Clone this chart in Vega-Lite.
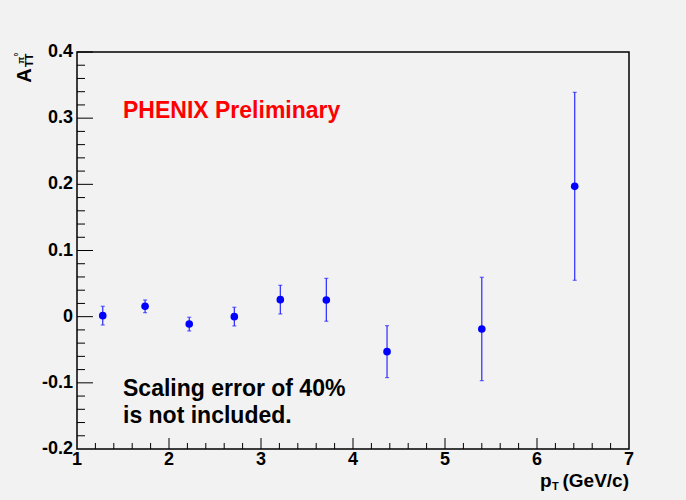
{
  "$schema": "https://vega.github.io/schema/vega-lite/v6.json",
  "autosize": "none",
  "width": 552,
  "height": 397,
  "padding": {"left": 77, "top": 52, "right": 57, "bottom": 51},
  "background": "#f2f2f2",
  "config": {
    "view": {"stroke": "#000000", "strokeWidth": 1.5, "fill": null},
    "font": "Liberation Sans"
  },
  "datasets": {
    "pts": [
      {"pt": 1.28, "a": 0.0015, "lo": -0.0126, "hi": 0.0157},
      {"pt": 1.74, "a": 0.0157, "lo": 0.006, "hi": 0.0252},
      {"pt": 2.22, "a": -0.011, "lo": -0.0216, "hi": -0.0009},
      {"pt": 2.71, "a": 0.0, "lo": -0.014, "hi": 0.0142},
      {"pt": 3.21, "a": 0.0257, "lo": 0.0041, "hi": 0.0474},
      {"pt": 3.71, "a": 0.0252, "lo": -0.0069, "hi": 0.0579},
      {"pt": 4.37, "a": -0.0529, "lo": -0.0921, "hi": -0.0136},
      {"pt": 5.40, "a": -0.0187, "lo": -0.0967, "hi": 0.0595},
      {"pt": 6.41, "a": 0.197, "lo": 0.055, "hi": 0.339}
    ],
    "yLabels": [{"v": -0.2, "t": "-0.2"}, {"v": -0.1, "t": "-0.1"}, {"v": 0, "t": "0"}, {"v": 0.1, "t": "0.1"}, {"v": 0.2, "t": "0.2"}, {"v": 0.3, "t": "0.3"}, {"v": 0.4, "t": "0.4"}],
    "xLabels": [{"v": 1, "t": "1"}, {"v": 2, "t": "2"}, {"v": 3, "t": "3"}, {"v": 4, "t": "4"}, {"v": 5, "t": "5"}, {"v": 6, "t": "6"}, {"v": 7, "t": "7"}],
    "yMajor": [{"v": -0.1}, {"v": 0}, {"v": 0.1}, {"v": 0.2}, {"v": 0.3}, {"v": 0.4}],
    "yMinor": [{"v": -0.18}, {"v": -0.16}, {"v": -0.14}, {"v": -0.12}, {"v": -0.08}, {"v": -0.06}, {"v": -0.04}, {"v": -0.02}, {"v": 0.02}, {"v": 0.04}, {"v": 0.06}, {"v": 0.08}, {"v": 0.12}, {"v": 0.14}, {"v": 0.16}, {"v": 0.18}, {"v": 0.22}, {"v": 0.24}, {"v": 0.26}, {"v": 0.28}, {"v": 0.32}, {"v": 0.34}, {"v": 0.36}, {"v": 0.38}],
    "xMajor": [{"v": 2}, {"v": 3}, {"v": 4}, {"v": 5}, {"v": 6}],
    "xMinor": [{"v": 1.2}, {"v": 1.4}, {"v": 1.6}, {"v": 1.8}, {"v": 2.2}, {"v": 2.4}, {"v": 2.6}, {"v": 2.8}, {"v": 3.2}, {"v": 3.4}, {"v": 3.6}, {"v": 3.8}, {"v": 4.2}, {"v": 4.4}, {"v": 4.6}, {"v": 4.8}, {"v": 5.2}, {"v": 5.4}, {"v": 5.6}, {"v": 5.8}, {"v": 6.2}, {"v": 6.4}, {"v": 6.6}, {"v": 6.8}],
    "red": [{"t": "PHENIX Preliminary", "x": 1.5, "y": 0.3}],
    "black": [
      {"t": "Scaling error of 40%", "x": 1.5, "y": -0.12},
      {"t": "is not included.", "x": 1.5, "y": -0.16}
    ],
    "ytitleBig": [{"t": "A", "x": 0.497, "y": 0.3645}],
    "ytitleSub": [{"t": "TT", "x": 0.522, "y": 0.3875}],
    "ytitlePi": [{"t": "π", "x": 0.424, "y": 0.3875}],
    "ytitleZero": [{"t": "0", "x": 0.359, "y": 0.396}],
    "xtitleMain": [{"t": "p", "x": 6.033, "y": -0.2576}],
    "xtitleUnit": [{"t": "(GeV/c)", "x": 7.0, "y": -0.2576}],
    "xtitleSub": [{"t": "T", "x": 6.163, "y": -0.2627}]
  },
  "layer": [
    {
      "mark": {"type": "rule", "color": "#777777", "strokeWidth": 2},
      "encoding": {
        "y": {"datum": 0, "type": "quantitative", "scale": {"domain": [-0.2, 0.4], "nice": false, "zero": false}, "axis": null}
      }
    },
    {
      "data": {"name": "yMajor"},
      "mark": {"type": "rule", "color": "#000000", "strokeWidth": 1},
      "encoding": {
        "y": {"field": "v", "type": "quantitative", "scale": {"domain": [-0.2, 0.4], "nice": false, "zero": false}, "axis": null},
        "x": {"datum": 1, "type": "quantitative", "scale": {"domain": [1, 7], "nice": false, "zero": false}, "axis": null},
        "x2": {"datum": 1.174}
      }
    },
    {
      "data": {"name": "yMinor"},
      "mark": {"type": "rule", "color": "#000000", "strokeWidth": 1},
      "encoding": {
        "y": {"field": "v", "type": "quantitative", "scale": {"domain": [-0.2, 0.4], "nice": false, "zero": false}, "axis": null},
        "x": {"datum": 1, "type": "quantitative", "scale": {"domain": [1, 7], "nice": false, "zero": false}, "axis": null},
        "x2": {"datum": 1.087}
      }
    },
    {
      "data": {"name": "xMajor"},
      "mark": {"type": "rule", "color": "#000000", "strokeWidth": 1},
      "encoding": {
        "x": {"field": "v", "type": "quantitative", "scale": {"domain": [1, 7], "nice": false, "zero": false}, "axis": null},
        "y": {"datum": -0.2, "type": "quantitative", "scale": {"domain": [-0.2, 0.4], "nice": false, "zero": false}, "axis": null},
        "y2": {"datum": -0.1834}
      }
    },
    {
      "data": {"name": "xMinor"},
      "mark": {"type": "rule", "color": "#000000", "strokeWidth": 1},
      "encoding": {
        "x": {"field": "v", "type": "quantitative", "scale": {"domain": [1, 7], "nice": false, "zero": false}, "axis": null},
        "y": {"datum": -0.2, "type": "quantitative", "scale": {"domain": [-0.2, 0.4], "nice": false, "zero": false}, "axis": null},
        "y2": {"datum": -0.1909}
      }
    },
    {
      "data": {"name": "yLabels"},
      "mark": {"type": "text", "color": "#000000", "fontSize": 18, "fontWeight": "bold", "align": "right", "baseline": "middle"},
      "encoding": {
        "y": {"field": "v", "type": "quantitative", "scale": {"domain": [-0.2, 0.4], "nice": false, "zero": false}, "axis": null},
        "x": {"datum": 0.9565, "type": "quantitative", "scale": {"domain": [1, 7], "nice": false, "zero": false}, "axis": null},
        "text": {"field": "t"}
      }
    },
    {
      "data": {"name": "xLabels"},
      "mark": {"type": "text", "color": "#000000", "fontSize": 18, "fontWeight": "bold", "align": "center", "baseline": "top"},
      "encoding": {
        "x": {"field": "v", "type": "quantitative", "scale": {"domain": [1, 7], "nice": false, "zero": false}, "axis": null},
        "y": {"datum": -0.203, "type": "quantitative", "scale": {"domain": [-0.2, 0.4], "nice": false, "zero": false}, "axis": null},
        "text": {"field": "t"}
      }
    },
    {
      "data": {"name": "pts"},
      "mark": {"type": "rule", "color": "#2a2aff", "strokeWidth": 1.2},
      "encoding": {
        "x": {"field": "pt", "type": "quantitative", "scale": {"domain": [1, 7], "nice": false, "zero": false}, "axis": null},
        "y": {"field": "lo", "type": "quantitative", "scale": {"domain": [-0.2, 0.4], "nice": false, "zero": false}, "axis": null},
        "y2": {"field": "hi"}
      }
    },
    {
      "data": {"name": "pts"},
      "mark": {"type": "tick", "orient": "horizontal", "color": "#2a2aff", "size": 4, "thickness": 1.2},
      "encoding": {
        "x": {"field": "pt", "type": "quantitative", "scale": {"domain": [1, 7], "nice": false, "zero": false}, "axis": null},
        "y": {"field": "lo", "type": "quantitative", "scale": {"domain": [-0.2, 0.4], "nice": false, "zero": false}, "axis": null}
      }
    },
    {
      "data": {"name": "pts"},
      "mark": {"type": "tick", "orient": "horizontal", "color": "#2a2aff", "size": 4, "thickness": 1.2},
      "encoding": {
        "x": {"field": "pt", "type": "quantitative", "scale": {"domain": [1, 7], "nice": false, "zero": false}, "axis": null},
        "y": {"field": "hi", "type": "quantitative", "scale": {"domain": [-0.2, 0.4], "nice": false, "zero": false}, "axis": null}
      }
    },
    {
      "data": {"name": "pts"},
      "mark": {"type": "circle", "color": "#0000ff", "size": 58, "opacity": 1},
      "encoding": {
        "x": {"field": "pt", "type": "quantitative", "scale": {"domain": [1, 7], "nice": false, "zero": false}, "axis": null},
        "y": {"field": "a", "type": "quantitative", "scale": {"domain": [-0.2, 0.4], "nice": false, "zero": false}, "axis": null}
      }
    },
    {
      "data": {"name": "red"},
      "mark": {"type": "text", "color": "#ff0000", "fontSize": 23, "fontWeight": "bold", "align": "left", "baseline": "alphabetic"},
      "encoding": {
        "x": {"field": "x", "type": "quantitative", "scale": {"domain": [1, 7], "nice": false, "zero": false}, "axis": null},
        "y": {"field": "y", "type": "quantitative", "scale": {"domain": [-0.2, 0.4], "nice": false, "zero": false}, "axis": null},
        "text": {"field": "t"}
      }
    },
    {
      "data": {"name": "black"},
      "mark": {"type": "text", "color": "#000000", "fontSize": 23, "fontWeight": "bold", "align": "left", "baseline": "alphabetic"},
      "encoding": {
        "x": {"field": "x", "type": "quantitative", "scale": {"domain": [1, 7], "nice": false, "zero": false}, "axis": null},
        "y": {"field": "y", "type": "quantitative", "scale": {"domain": [-0.2, 0.4], "nice": false, "zero": false}, "axis": null},
        "text": {"field": "t"}
      }
    },
    {
      "data": {"name": "ytitleBig"},
      "mark": {"type": "text", "color": "#000000", "fontSize": 20, "fontWeight": "bold", "align": "center", "baseline": "alphabetic", "angle": 270},
      "encoding": {
        "x": {"field": "x", "type": "quantitative", "scale": {"domain": [1, 7], "nice": false, "zero": false}, "axis": null},
        "y": {"field": "y", "type": "quantitative", "scale": {"domain": [-0.2, 0.4], "nice": false, "zero": false}, "axis": null},
        "text": {"field": "t"}
      }
    },
    {
      "data": {"name": "ytitleSub"},
      "mark": {"type": "text", "color": "#000000", "fontSize": 11, "fontWeight": "bold", "align": "center", "baseline": "alphabetic", "angle": 270},
      "encoding": {
        "x": {"field": "x", "type": "quantitative", "scale": {"domain": [1, 7], "nice": false, "zero": false}, "axis": null},
        "y": {"field": "y", "type": "quantitative", "scale": {"domain": [-0.2, 0.4], "nice": false, "zero": false}, "axis": null},
        "text": {"field": "t"}
      }
    },
    {
      "data": {"name": "ytitlePi"},
      "mark": {"type": "text", "color": "#000000", "fontSize": 9, "fontWeight": "bold", "align": "center", "baseline": "alphabetic", "angle": 270},
      "encoding": {
        "x": {"field": "x", "type": "quantitative", "scale": {"domain": [1, 7], "nice": false, "zero": false}, "axis": null},
        "y": {"field": "y", "type": "quantitative", "scale": {"domain": [-0.2, 0.4], "nice": false, "zero": false}, "axis": null},
        "text": {"field": "t"}
      }
    },
    {
      "data": {"name": "ytitleZero"},
      "mark": {"type": "text", "color": "#000000", "fontSize": 6, "fontWeight": "bold", "align": "center", "baseline": "alphabetic", "angle": 270},
      "encoding": {
        "x": {"field": "x", "type": "quantitative", "scale": {"domain": [1, 7], "nice": false, "zero": false}, "axis": null},
        "y": {"field": "y", "type": "quantitative", "scale": {"domain": [-0.2, 0.4], "nice": false, "zero": false}, "axis": null},
        "text": {"field": "t"}
      }
    },
    {
      "data": {"name": "xtitleMain"},
      "mark": {"type": "text", "color": "#000000", "fontSize": 19, "fontWeight": "bold", "align": "left", "baseline": "alphabetic"},
      "encoding": {
        "x": {"field": "x", "type": "quantitative", "scale": {"domain": [1, 7], "nice": false, "zero": false}, "axis": null},
        "y": {"field": "y", "type": "quantitative", "scale": {"domain": [-0.2, 0.4], "nice": false, "zero": false}, "axis": null},
        "text": {"field": "t"}
      }
    },
    {
      "data": {"name": "xtitleUnit"},
      "mark": {"type": "text", "color": "#000000", "fontSize": 19, "fontWeight": "bold", "align": "right", "baseline": "alphabetic"},
      "encoding": {
        "x": {"field": "x", "type": "quantitative", "scale": {"domain": [1, 7], "nice": false, "zero": false}, "axis": null},
        "y": {"field": "y", "type": "quantitative", "scale": {"domain": [-0.2, 0.4], "nice": false, "zero": false}, "axis": null},
        "text": {"field": "t"}
      }
    },
    {
      "data": {"name": "xtitleSub"},
      "mark": {"type": "text", "color": "#000000", "fontSize": 11, "fontWeight": "bold", "align": "left", "baseline": "alphabetic"},
      "encoding": {
        "x": {"field": "x", "type": "quantitative", "scale": {"domain": [1, 7], "nice": false, "zero": false}, "axis": null},
        "y": {"field": "y", "type": "quantitative", "scale": {"domain": [-0.2, 0.4], "nice": false, "zero": false}, "axis": null},
        "text": {"field": "t"}
      }
    }
  ]
}
